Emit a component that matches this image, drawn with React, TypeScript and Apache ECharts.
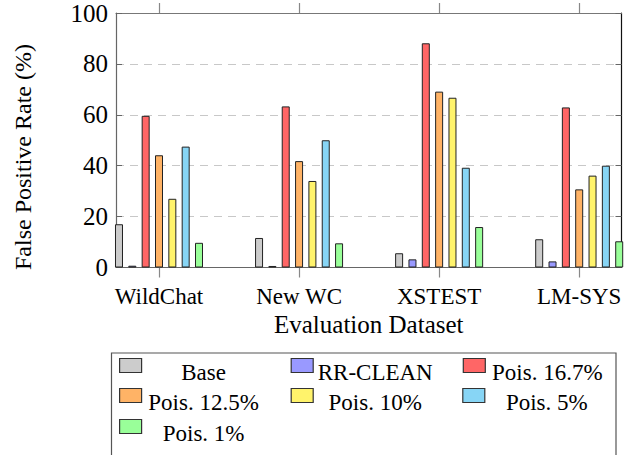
import React, { useEffect, useRef } from "react";
import * as echarts from "echarts";

const categories = ["WildChat", "New WC", "XSTEST", "LM-SYS"];
const seriesNames = ["Base", "RR-CLEAN", "Pois. 16.7%", "Pois. 12.5%", "Pois. 10%", "Pois. 5%", "Pois. 1%"];
const base = [17.0, 11.6, 5.6, 11.1];
const rrClean = [0.7, 0.6, 3.2, 2.4];
const pois167 = [59.6, 63.3, 88.1, 62.9];
const pois125 = [44.1, 41.8, 69.1, 30.7];
const pois10 = [27.0, 34.0, 66.7, 36.1];
const pois5 = [47.5, 50.0, 39.2, 40.0];
const pois1 = [9.7, 9.5, 15.9, 10.3];
const yTicks = [0, 20, 40, 60, 80, 100];
const yLabel = "False Positive Rate (%)";
const xLabel = "Evaluation Dataset";

const allValues = [base, rrClean, pois167, pois125, pois10, pois5, pois1];
const colors = ["#cccccc", "#9999ff", "#ff6666", "#ffb366", "#fff36b", "#87d5f5", "#99ff99"];

const FONT = '"Liberation Serif", "Times New Roman", Times, serif';
const BAR_STEP = 13.33 / 140;
const catIdx = categories.map((_, i) => i);

export default function App() {
  const ref = useRef<HTMLDivElement>(null);
  useEffect(() => {
    if (!ref.current) return;
    const chart = echarts.init(ref.current, undefined, { renderer: "svg" });
    const series = allValues.map((vals, k) => ({
      name: seriesNames[k],
      type: "bar",
      barWidth: 8,
      barGap: "-100%",
      clip: true,
      data: vals.map((v, i) => [i + (k - 3) * BAR_STEP, v]),
      itemStyle: { color: colors[k], borderColor: "#222", borderWidth: 1 },
    }));
    const legendBase = {
      left: 119,
      padding: 0,
      itemWidth: 22,
      itemHeight: 14,
      itemGap: 30,
      icon: "rect",
      selectedMode: false,
      itemStyle: { borderColor: "#333", borderWidth: 1.2 },
      formatter: "{t|{name}}",
      textStyle: {
        rich: {
          t: {
            width: 114,
            align: "center",
            fontFamily: FONT,
            fontSize: 23,
            lineHeight: 24,
            color: "#000",
            padding: [14, 0, 0, 0],
          },
        },
      },
    };
    chart.setOption({
      animation: false,
      backgroundColor: "#fff",
      grid: { left: 116, right: 12.5, top: 13, bottom: 187.5 },
      xAxis: [
        {
          type: "value",
          min: -0.307,
          max: 3.302,
          position: "bottom",
          splitLine: { show: false },
          axisLine: { show: true, onZero: false, lineStyle: { color: "#666", width: 1.2 } },
          axisTick: { show: true, inside: false, length: 10, customValues: catIdx, lineStyle: { color: "#888", width: 1.2 } },
          axisLabel: {
            show: true,
            customValues: catIdx,
            formatter: (v: number) => categories[Math.round(v)] ?? "",
            fontFamily: FONT,
            fontSize: 23,
            color: "#000",
            margin: 17,
          },
          name: xLabel,
          nameLocation: "middle",
          nameGap: 38,
          nameTextStyle: { fontFamily: FONT, fontSize: 25, color: "#000" },
        },
        {
          type: "value",
          min: -0.307,
          max: 3.302,
          position: "top",
          splitLine: { show: false },
          axisLine: { show: true, onZero: false, lineStyle: { color: "#777", width: 1.2 } },
          axisTick: { show: true, inside: false, length: 10, customValues: catIdx, lineStyle: { color: "#888", width: 1.2 } },
          axisLabel: { show: false },
        },
      ],
      yAxis: [
        {
          type: "value",
          min: yTicks[0],
          max: yTicks[yTicks.length - 1],
          interval: 20,
          position: "left",
          axisLine: { show: true, onZero: false, lineStyle: { color: "#666", width: 1.2 } },
          axisTick: { show: true, inside: true, length: 6, lineStyle: { color: "#666" } },
          axisLabel: { fontFamily: FONT, fontSize: 25, color: "#000", margin: 8 },
          splitLine: { show: true, lineStyle: { color: "#c8c8c8", type: [8, 6], width: 1.2 } },
        },
        {
          type: "value",
          min: yTicks[0],
          max: yTicks[yTicks.length - 1],
          interval: 20,
          position: "right",
          axisLine: { show: true, onZero: false, lineStyle: { color: "#111", width: 1.2 } },
          axisTick: { show: true, inside: true, length: 6, lineStyle: { color: "#666" } },
          axisLabel: { show: false },
          splitLine: { show: false },
        },
      ],
      legend: [
        { ...legendBase, top: 347, data: seriesNames.slice(0, 3) },
        { ...legendBase, top: 377, data: seriesNames.slice(3, 6) },
        { ...legendBase, top: 408, data: seriesNames.slice(6) },
      ],
      graphic: [
        {
          type: "rect",
          shape: { x: 111.5, y: 353, width: 504.5, height: 130 },
          style: { fill: "none", stroke: "#555", lineWidth: 1.2 },
          silent: true,
        },
        {
          type: "text",
          x: 23,
          y: 157,
          rotation: Math.PI / 2,
          style: {
            text: yLabel,
            fontFamily: FONT,
            fontSize: 24,
            fill: "#000",
            textAlign: "center",
            textVerticalAlign: "middle",
          },
        },
      ],
      series,
    });
    return () => chart.dispose();
  }, []);
  return <div ref={ref} style={{ position: "fixed", left: 0, top: 0, width: 634, height: 455 }} />;
}
